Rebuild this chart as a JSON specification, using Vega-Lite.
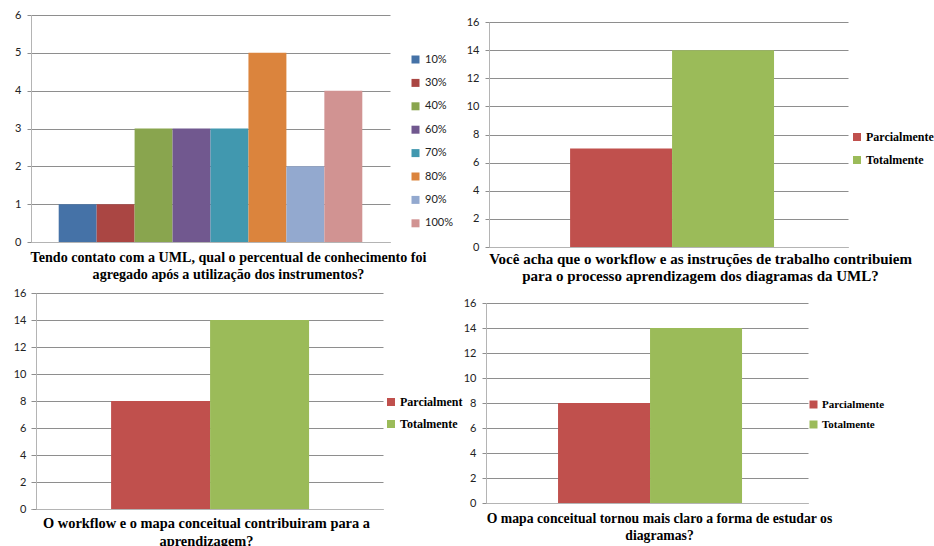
{
  "$schema": "https://vega.github.io/schema/vega-lite/v6.json",
  "padding": {"left": 13, "top": 9, "right": 0, "bottom": 0},
  "background": "white",
  "columns": 2,
  "spacing": {"row": 4, "column": 0},
  "datasets": {
    "p1": [
      {"serie": "10%", "valor": 1},
      {"serie": "30%", "valor": 1},
      {"serie": "40%", "valor": 3},
      {"serie": "60%", "valor": 3},
      {"serie": "70%", "valor": 3},
      {"serie": "80%", "valor": 5},
      {"serie": "90%", "valor": 2},
      {"serie": "100%", "valor": 4}
    ],
    "p2": [
      {"serie": "Parcialmente", "valor": 7},
      {"serie": "Totalmente", "valor": 14}
    ],
    "p3": [
      {"serie": "Parcialmente", "valor": 8},
      {"serie": "Totalmente", "valor": 14}
    ],
    "p4": [
      {"serie": "Parcialmente", "valor": 8},
      {"serie": "Totalmente", "valor": 14}
    ]
  },
  "config": {
    "view": {"stroke": null},
    "axisY": {
      "gridColor": "#8e8e8e",
      "gridWidth": 1,
      "domainColor": "#b4b4b4",
      "tickColor": "#8e8e8e",
      "tickSize": 4,
      "labelFont": "Lato",
      "labelFontSize": 11,
      "labelColor": "#222222",
      "labelPadding": 6,
      "title": null
    },
    "axisX": {
      "domainColor": "#b4b4b4",
      "ticks": false,
      "labels": false,
      "grid": false,
      "titleFont": "Liberation Serif",
      "titleFontWeight": "bold",
      "titleColor": "#000000"
    },
    "legend": {
      "symbolType": "square",
      "symbolSize": 64,
      "symbolStrokeWidth": 0,
      "labelOffset": 4,
      "title": null,
      "orient": "none"
    }
  },
  "resolve": {
    "scale": {"x": "independent", "y": "independent", "color": "independent"},
    "axis": {"x": "independent", "y": "independent"},
    "legend": {"color": "independent"}
  },
  "concat": [
    {
      "width": 359,
      "height": 227,
      "data": {"name": "p1"},
      "mark": {"type": "bar"},
      "encoding": {
        "x": {
          "field": "serie", "type": "nominal", "sort": null,
          "scale": {"paddingInner": 0, "paddingOuter": 0.73},
          "axis": {
            "title": ["Tendo contato com a UML, qual o percentual de conhecimento foi", "agregado após a utilização dos instrumentos?"],
            "titleFontSize": 14.1, "titleLineHeight": 17, "titlePadding": 8, "titleX": 197
          }
        },
        "y": {
          "field": "valor", "type": "quantitative",
          "scale": {"domain": [0, 6]},
          "axis": {"values": [0, 1, 2, 3, 4, 5, 6]}
        },
        "color": {
          "field": "serie", "type": "nominal",
          "scale": {
            "domain": ["10%", "30%", "40%", "60%", "70%", "80%", "90%", "100%"],
            "range": ["#4572A7", "#AA4643", "#89A54E", "#71588F", "#4198AF", "#DB843D", "#93A9CF", "#D19392"]
          },
          "legend": {"legendX": 379, "legendY": 39, "labelFont": "Lato", "labelFontSize": 11, "labelColor": "#222222", "rowPadding": 11.4}
        }
      }
    },
    {
      "width": 362,
      "height": 232,
      "data": {"name": "p2"},
      "mark": {"type": "bar"},
      "encoding": {
        "x": {
          "field": "serie", "type": "nominal", "sort": null,
          "scale": {"paddingInner": 0, "paddingOuter": 0.775, "align": 0.532},
          "axis": {
            "title": ["Você acha que o workflow e as instruções de trabalho contribuiem", "para o processo aprendizagem dos diagramas da UML?"],
            "titleFontSize": 15, "titleLineHeight": 17, "titlePadding": 4, "titleX": 214
          }
        },
        "y": {
          "field": "valor", "type": "quantitative",
          "scale": {"domain": [0, 16.5], "nice": false},
          "axis": {"values": [0, 2, 4, 6, 8, 10, 12, 14, 16], "offset": -3, "domainDash": [225, 60]}
        },
        "color": {
          "field": "serie", "type": "nominal",
          "scale": {"domain": ["Parcialmente", "Totalmente"], "range": ["#C0504D", "#9BBB59"]},
          "legend": {"legendX": 365, "legendY": 116, "labelFont": "Liberation Serif", "labelFontWeight": "bold", "labelFontSize": 12, "labelColor": "#000000", "rowPadding": 11, "labelOffset": 3}
        }
      }
    },
    {
      "width": 352,
      "height": 216,
      "data": {"name": "p3"},
      "mark": {"type": "bar"},
      "encoding": {
        "x": {
          "field": "serie", "type": "nominal", "sort": null,
          "scale": {"paddingInner": 0, "paddingOuter": 0.778, "align": 0.52},
          "axis": {
            "title": ["O workflow e o mapa conceitual contribuiram para a", "aprendizagem?"],
            "titleFontSize": 14.4, "titleLineHeight": 18, "titlePadding": 7, "titleX": 175
          }
        },
        "y": {
          "field": "valor", "type": "quantitative",
          "scale": {"domain": [0, 16]},
          "axis": {"values": [0, 2, 4, 6, 8, 10, 12, 14, 16], "offset": -5}
        },
        "color": {
          "field": "serie", "type": "nominal",
          "scale": {"domain": ["Parcialmente", "Totalmente"], "range": ["#C0504D", "#9BBB59"]},
          "legend": {"legendX": 354, "legendY": 103, "labelFont": "Liberation Serif", "labelFontWeight": "bold", "labelFontSize": 12, "labelColor": "#000000", "rowPadding": 10, "labelOffset": 3, "labelExpr": "datum.label == 'Parcialmente' ? 'Parcialment' : datum.label"}
        }
      }
    },
    {
      "width": 322,
      "height": 210,
      "data": {"name": "p4"},
      "mark": {"type": "bar"},
      "encoding": {
        "x": {
          "field": "serie", "type": "nominal", "sort": null,
          "scale": {"paddingInner": 0, "paddingOuter": 0.75, "align": 0.522},
          "axis": {
            "title": ["O mapa conceitual tornou mais claro a forma de estudar os", "diagramas?"],
            "titleFontSize": 13.7, "titleLineHeight": 17, "titlePadding": 8, "titleX": 173
          }
        },
        "y": {
          "field": "valor", "type": "quantitative",
          "scale": {"domain": [0, 16.8], "nice": false},
          "axis": {"values": [0, 2, 4, 6, 8, 10, 12, 14, 16], "domainDash": [200, 60]}
        },
        "color": {
          "field": "serie", "type": "nominal",
          "scale": {"domain": ["Parcialmente", "Totalmente"], "range": ["#C0504D", "#9BBB59"]},
          "legend": {"legendX": 322, "legendY": 106, "labelFont": "Liberation Serif", "labelFontWeight": "bold", "labelFontSize": 11, "labelColor": "#000000", "rowPadding": 8, "labelOffset": 3}
        }
      }
    }
  ]
}
